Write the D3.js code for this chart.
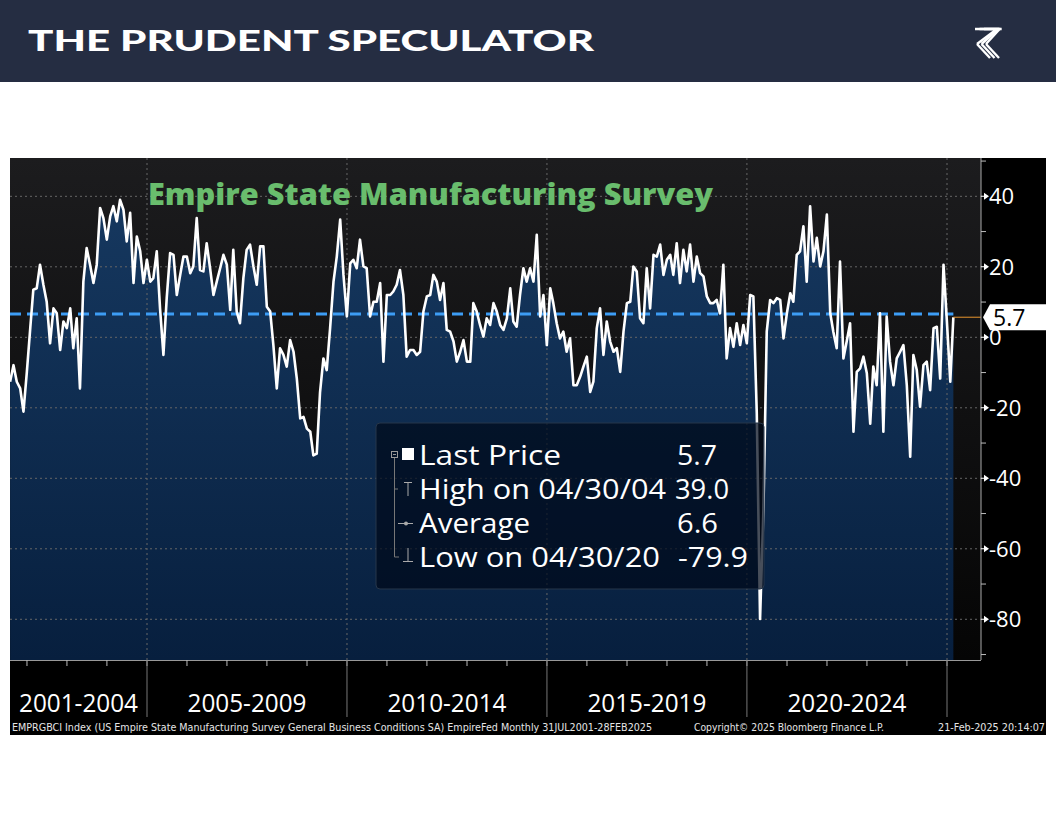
<!DOCTYPE html>
<html><head><meta charset="utf-8">
<script src="https://cdn.jsdelivr.net/npm/d3@7"></script>
<style>body{margin:0;background:#fff}svg{display:block}</style>
</head><body>
<svg id="c" width="1056" height="816"></svg>
<script>
// ---- DATA ----
const startYear = 2001, startMonth = 7; // first observation: July 2001 (monthly)
const y2001 = [-12.6,-7.9,-12.6,-14.5,-21.1,-9.8];
const y2002 = [2.6,13.5,13.9,20.6,14.9,10.1,-1.7,8.2,6.8,-3.6,4.5,2.6];
const y2003 = [8.2,-3.1,5.4,-14.5,15.8,25.3,20.6,15.4,20.6,36.7,33.8,27.7];
const y2004 = [34.3,37.2,32.9,39.0,36.2,27.2,35.3,15.4,28.6,24.4,15.4,22.0];
const y2005 = [15.8,16.8,24.4,8.2,-5.0,11.1,23.9,23.4,12.0,17.7,22.9,22.9];
const y2006 = [18.2,20.1,33.8,19.1,18.7,26.7,19.6,12.0,15.8,19.6,23.4,20.6];
const y2007 = [7.8,24.8,7.3,4.0,16.8,24.8,26.3,20.1,14.9,25.8,25.8,8.7];
const y2008 = [7.3,-2.2,-14.5,-3.1,-5.0,-8.3,-0.8,-4.1,-11.7,-23.0,-22.6,-25.9];
const y2009 = [-26.8,-33.5,-33.0,-15.6,-6.0,-9.3,2.6,15.8,22.9,33.4,17.7,5.9];
const y2010 = [21.0,22.0,19.6,27.7,20.1,19.6,5.9,10.1,10.1,15.4,-6.9,12.0];
const y2011 = [12.0,13.0,14.9,19.1,12.0,-5.5,-3.6,-3.6,-5.0,-4.1,7.3,11.6];
const y2012 = [12.0,17.7,15.8,10.6,15.4,2.1,1.6,-1.2,-6.9,-4.1,-0.8,-6.9];
const y2013 = [-6.9,9.7,7.3,3.5,0.2,5.4,3.5,9.7,7.3,3.5,2.1,5.4];
const y2014 = [13.9,4.5,3.0,12.0,19.6,15.8,19.6,15.8,29.1,5.9,12.0,-2.2];
const y2015 = [13.9,9.7,4.0,-0.3,1.6,-4.1,-0.3,-13.6,-13.6,-11.2,-8.3,-5.5];
const y2016 = [-15.5,-12.6,2.6,8.2,-5.0,4.5,-1.2,-4.1,-3.1,-9.8,1.6,9.7];
const y2017 = [10.1,20.1,18.7,5.4,4.0,19.6,8.2,23.4,22.9,26.3,17.7,22.0];
const y2018 = [23.4,17.7,26.7,15.4,24.8,18.7,26.3,15.8,22.9,18.2,17.3,11.6];
const y2019 = [9.7,9.7,10.6,6.8,20.6,-6.0,2.6,-2.7,4.0,-2.2,3.5,-1.7];
const y2020 = [12.0,11.6,-21.5,-79.9,-48.5,1.6,10.6,9.7,11.1,10.6,-0.3,6.8];
const y2021 = [12.5,10.1,23.4,24.4,31.5,15.8,37.2,21.5,28.2,20.1,24.4,34.8];
const y2022 = [6.8,1.6,-3.1,21.5,-6.0,-1.2,4.0,-26.8,-9.8,-8.8,-5.5,-10.2];
const y2023 = [-24.5,-8.3,-13.6,6.8,-26.8,5.9,-6.9,-13.6,-6.0,-4.1,-2.2,-13.6];
const y2024 = [-33.9,-5.0,-9.3,-19.7,-7.9,-6.9,-15.0,2.6,3.0,-11.7,20.6,4.5];
const y2025 = [-12.6,5.7];

const periodLabels = ["2001-2004","2005-2009","2010-2014","2015-2019","2020-2024"];
const periodStarts = [2001,2005,2010,2015,2020];
const yTickValues = [40,20,0,-20,-40,-60,-80];
const yMinorTicks = [50,30,10,-10,-30,-50,-70,-90];
const lastPrice = 5.7;
const averageValue = 6.6;
const legendLabels = ["Last Price","High on 04/30/04","Average","Low on 04/30/20"];
const legendValues = ["5.7","39.0","6.6","-79.9"];
const titleText = "Empire State Manufacturing Survey";
const footerLeft = "EMPRGBCI Index (US Empire State Manufacturing Survey General Business Conditions SA) EmpireFed  Monthly 31JUL2001-28FEB2025";
const footerMid = "Copyright\u00A9 2025 Bloomberg Finance L.P.";
const footerRight = "21-Feb-2025 20:14:07";

// ---- BUILD ----
const values = [].concat(y2001,y2002,y2003,y2004,y2005,y2006,y2007,y2008,y2009,y2010,
  y2011,y2012,y2013,y2014,y2015,y2016,y2017,y2018,y2019,y2020,y2021,y2022,y2023,y2024,y2025);
const data = values.map((v,i)=>({date:new Date(startYear, startMonth-1+i+1, 0), value:v}));

const svg = d3.select("#c");
const W = 1056;
const plot = {l:10, r:981, t:158, b:660};

const x = d3.scaleTime().domain([new Date(2005,0,1), new Date(2025,0,1)]).range([147,947]);
const y = d3.scaleLinear().domain([-91.55, 50.87]).range([plot.b, plot.t]);

const defs = svg.append("defs");
const bgG = defs.append("linearGradient").attr("id","bgG").attr("x1",0).attr("x2",0).attr("y1",0).attr("y2",1);
bgG.append("stop").attr("offset","0%").attr("stop-color","#1c1c1e");
bgG.append("stop").attr("offset","100%").attr("stop-color","#050505");
const arG = defs.append("linearGradient").attr("id","arG").attr("gradientUnits","userSpaceOnUse")
  .attr("x1",0).attr("x2",0).attr("y1",plot.t).attr("y2",plot.b);
arG.append("stop").attr("offset","0%").attr("stop-color","#173a62");
arG.append("stop").attr("offset","100%").attr("stop-color","#071f3e");
defs.append("clipPath").attr("id","clip").append("rect")
  .attr("x",plot.l).attr("y",plot.t).attr("width",plot.r-plot.l).attr("height",plot.b-plot.t);

// header
svg.append("rect").attr("x",0).attr("y",0).attr("width",W).attr("height",82).attr("fill","#252d42");
svg.append("text").attr("x",28).attr("y",51).text("THE PRUDENT SPECULATOR")
  .attr("fill","#fff").attr("font-family","Lato, 'Open Sans', sans-serif").attr("font-weight",900)
  .attr("font-size",28).attr("textLength",566).attr("lengthAdjust","spacingAndGlyphs");
// logo
const logo = svg.append("g").attr("stroke","#fff").attr("fill","none").attr("stroke-width",2.4);
[0,4.5,9].forEach(o=>{
  logo.append("path").attr("d",`M${975+o},${29} L${999+o*0.3},${29} M${999+o*0.3-2},${29} L${977+o},${44}`);
  logo.append("path").attr("d",`M${977+o},${44} L${990+o},${58}`);
});

// panel
svg.append("rect").attr("x",10).attr("y",158).attr("width",1036).attr("height",577).attr("fill","#000");
svg.append("rect").attr("x",plot.l).attr("y",plot.t).attr("width",plot.r-plot.l).attr("height",plot.b-plot.t).attr("fill","url(#bgG)");

const g = svg.append("g").attr("clip-path","url(#clip)");
const area = d3.area().x(d=>x(d.date)).y0(plot.b).y1(d=>y(d.value));
g.append("path").datum(data).attr("d",area).attr("fill","url(#arG)");

// gridlines
g.selectAll(".hg").data(yTickValues).enter().append("line")
  .attr("x1",plot.l).attr("x2",plot.r).attr("y1",d=>y(d)).attr("y2",d=>y(d))
  .attr("stroke","#666").attr("stroke-dasharray","2,3").attr("stroke-width",1);
const sepYears = [2005,2010,2015,2020,2025];
g.selectAll(".vg").data(sepYears).enter().append("line")
  .attr("x1",d=>x(new Date(d,0,1))).attr("x2",d=>x(new Date(d,0,1)))
  .attr("y1",plot.t).attr("y2",plot.b)
  .attr("stroke","#666").attr("stroke-dasharray","2,3").attr("stroke-width",1);

// title
svg.append("text").attr("x",148).attr("y",205).text(titleText)
  .attr("fill","#69bd6d").attr("font-family","'Open Sans', sans-serif").attr("font-weight",800)
  .attr("font-size",30).attr("textLength",565).attr("lengthAdjust","spacingAndGlyphs");

// average line
const lastD = data[data.length-1];
g.append("line").attr("x1",plot.l).attr("x2",x(lastD.date)).attr("y1",y(averageValue)).attr("y2",y(averageValue))
  .attr("stroke","#3d9df5").attr("stroke-width",3).attr("stroke-dasharray","11,6");
// last price line
svg.append("line").attr("x1",x(lastD.date)).attr("x2",plot.r).attr("y1",y(lastPrice)).attr("y2",y(lastPrice))
  .attr("stroke","#e8952e").attr("stroke-width",1);

// main line
const line = d3.line().x(d=>x(d.date)).y(d=>y(d.value));
g.append("path").datum(data).attr("d",line).attr("fill","none").attr("stroke","#fff")
  .attr("stroke-width",2.6).attr("stroke-linejoin","round");

// frame
svg.append("line").attr("x1",plot.r).attr("x2",plot.r).attr("y1",plot.t).attr("y2",plot.b).attr("stroke","#aaa");
svg.append("line").attr("x1",plot.l).attr("x2",plot.r).attr("y1",plot.b+0.5).attr("y2",plot.b+0.5).attr("stroke","#999");

// right axis
const ax = svg.append("g");
ax.selectAll(".mt").data(yMinorTicks).enter().append("line")
  .attr("x1",plot.r).attr("x2",plot.r+5).attr("y1",d=>y(d)).attr("y2",d=>y(d)).attr("stroke","#bbb");
yTickValues.forEach(v=>{
  const yy = y(v);
  ax.append("path").attr("d",`M${plot.r},${yy-0.5} L${plot.r+3},${yy-0.5} L${plot.r+3},${yy-3.5} L${plot.r+8},${yy} L${plot.r+3},${yy+3.5} L${plot.r+3},${yy+0.5} L${plot.r},${yy+0.5}Z`).attr("fill","#fff");
  ax.append("text").attr("x",plot.r+8).attr("y",yy+8).text(v)
    .attr("fill","#fff").attr("font-family","'Open Sans', sans-serif").attr("font-size",22);
});
// last price tag
const ly = y(lastPrice);
svg.append("path").attr("d",`M${plot.r+2},${ly} L${plot.r+9},${ly-13} L1046,${ly-13} L1046,${ly+13} L${plot.r+9},${ly+13}Z`).attr("fill","#fff");
svg.append("text").attr("x",plot.r+12).attr("y",ly+9).text(lastPrice.toFixed(1))
  .attr("fill","#000").attr("font-family","'Open Sans', sans-serif").attr("font-size",23);

// x axis
const yearTicks = d3.range(2002,2026).map(yr=>new Date(yr,0,1));
svg.selectAll(".xt").data(yearTicks).enter().append("line")
  .attr("x1",d=>x(d)).attr("x2",d=>x(d)).attr("y1",plot.b).attr("y2",plot.b+6).attr("stroke","#bbb");
svg.selectAll(".sep").data(sepYears).enter().append("line")
  .attr("x1",d=>x(new Date(d,0,1))).attr("x2",d=>x(new Date(d,0,1))).attr("y1",plot.b).attr("y2",717)
  .attr("stroke","#777");
periodLabels.forEach((lab,i)=>{
  const s = Math.max(plot.l, x(new Date(periodStarts[i],0,1)));
  const e = x(new Date(periodStarts[i]+(i===0?4:5),0,1));
  svg.append("text").attr("x",(s+e)/2).attr("y",712).attr("text-anchor","middle").text(lab)
    .attr("fill","#fff").attr("font-family","'Open Sans', sans-serif").attr("font-size",25)
    .attr("textLength",119).attr("lengthAdjust","spacingAndGlyphs");
});

// footer
const ff = "'DejaVu Sans Condensed','Liberation Sans Narrow','Open Sans',sans-serif";
svg.append("text").attr("x",12).attr("y",731).text(footerLeft).attr("fill","#e6e6e6")
  .attr("font-family",ff).attr("font-size",10).attr("textLength",640).attr("lengthAdjust","spacingAndGlyphs");
svg.append("text").attr("x",694).attr("y",731).text(footerMid).attr("fill","#e6e6e6")
  .attr("font-family",ff).attr("font-size",10).attr("textLength",190).attr("lengthAdjust","spacingAndGlyphs");
svg.append("text").attr("x",938).attr("y",731).text(footerRight).attr("fill","#e6e6e6")
  .attr("font-family",ff).attr("font-size",10).attr("textLength",107).attr("lengthAdjust","spacingAndGlyphs");

// legend
const lg = svg.append("g");
lg.append("rect").attr("x",376).attr("y",423).attr("width",388).attr("height",166).attr("rx",4)
  .attr("fill","#000a1a").attr("fill-opacity",0.72).attr("stroke","#26364a");
const rowY = [465,499,533,567];
const labelWidths = [142,247,111,241];
const valueX = [677,675,677,678];
const valueWidths = [40,54,41,70];
// tree
lg.append("rect").attr("x",391.5).attr("y",451.5).attr("width",6).attr("height",6).attr("fill","none").attr("stroke","#999");
lg.append("line").attr("x1",393).attr("x2",396).attr("y1",454.5).attr("y2",454.5).attr("stroke","#999");
lg.append("path").attr("d","M394.5,458 L394.5,557 L399,557").attr("fill","none").attr("stroke","#777");
lg.append("line").attr("x1",394.5).attr("x2",398).attr("y1",489).attr("y2",489).attr("stroke","#777");
lg.append("rect").attr("x",402).attr("y",448).attr("width",12).attr("height",12).attr("fill","#fff");
// high icon
lg.append("path").attr("d","M404,482.5 L412,482.5 M408,482.5 L408,496").attr("stroke","#aaa").attr("fill","none");
// average icon
lg.append("line").attr("x1",398).attr("x2",413).attr("y1",523.5).attr("y2",523.5).attr("stroke","#aaa");
lg.append("circle").attr("cx",406).attr("cy",523.5).attr("r",2).attr("fill","#aaa");
// low icon
lg.append("path").attr("d","M408,548 L408,561.5 M403,561.5 L413,561.5").attr("stroke","#aaa").attr("fill","none");
legendLabels.forEach((t,i)=>{
  lg.append("text").attr("x",419).attr("y",rowY[i]).text(t).attr("fill","#fff")
    .attr("font-family","'Open Sans', sans-serif").attr("font-size",27)
    .attr("textLength",labelWidths[i]).attr("lengthAdjust","spacingAndGlyphs");
  lg.append("text").attr("x",valueX[i]).attr("y",rowY[i]).text(legendValues[i]).attr("fill","#fff")
    .attr("font-family","'Open Sans', sans-serif").attr("font-size",27)
    .attr("textLength",valueWidths[i]).attr("lengthAdjust","spacingAndGlyphs");
});
</script>
</body></html>
